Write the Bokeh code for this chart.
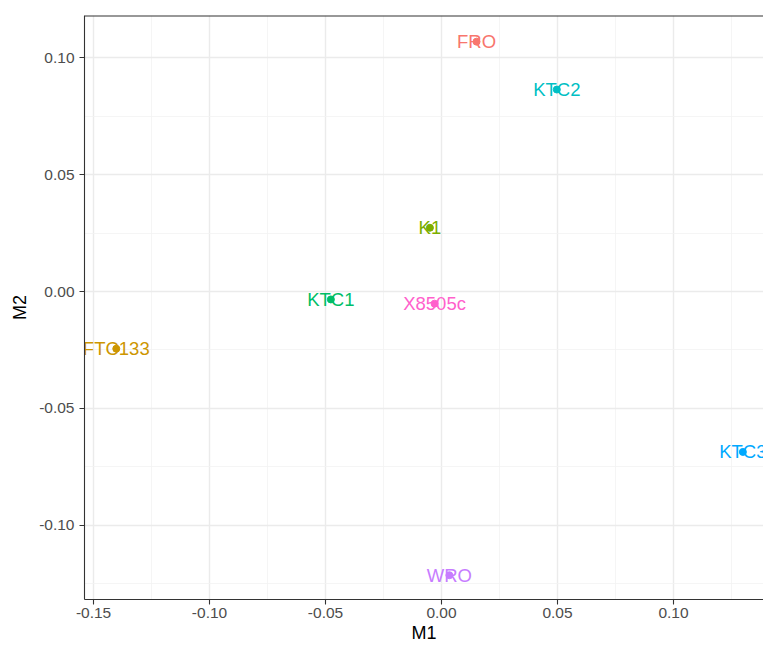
from bokeh.plotting import figure
from bokeh.models import ColumnDataSource, Range1d, FixedTicker, NumeralTickFormatter, Span
from bokeh.core.properties import value
from bokeh.embed import file_html
from bokeh.resources import INLINE

# ---- data ----
labels = ["FRO", "FTC133", "K1", "KTC1", "KTC2", "KTC3", "WRO", "X8505c"]
m1 = [0.0151, -0.1402, -0.0050, -0.0477, 0.0497, 0.1299, 0.0034, -0.0030]
m2 = [0.1070, -0.0245, 0.0273, -0.0034, 0.0865, -0.0687, -0.1215, -0.0052]
colors = ["#F8766D", "#CD9600", "#7CAE00", "#00BE67", "#00BFC4", "#00A9FF", "#C77CFF", "#FF61CC"]

x_ticks = [-0.15, -0.10, -0.05, 0.0, 0.05, 0.10]
x_minor = [-0.125, -0.075, -0.025, 0.025, 0.075, 0.125]
y_ticks = [-0.10, -0.05, 0.0, 0.05, 0.10]
y_minor = [-0.125, -0.075, -0.025, 0.025, 0.075]

src = ColumnDataSource(dict(m1=m1, m2=m2, label=labels, color=colors))

p = figure(width=763, height=645, output_backend="svg", toolbar_location=None,
           x_range=Range1d(-0.1539, 0.1388), y_range=Range1d(-0.1319, 0.1182),
           min_border_left=84, min_border_right=0, min_border_top=15, min_border_bottom=46,
           x_axis_label="M1", y_axis_label="M2")
p.outline_line_color = None
p.background_fill_color = "white"
p.border_fill_color = "white"

p.xaxis.ticker = FixedTicker(ticks=x_ticks, minor_ticks=x_minor)
p.yaxis.ticker = FixedTicker(ticks=y_ticks, minor_ticks=y_minor)
p.xaxis.formatter = NumeralTickFormatter(format="0.00")
p.yaxis.formatter = NumeralTickFormatter(format="0.00")

for ax in (p.xaxis, p.yaxis):
    ax.axis_line_color = "#333333"
    ax.axis_line_width = 1.1
    ax.major_tick_line_color = "#333333"
    ax.major_tick_line_width = 1.1
    ax.major_tick_out = 5
    ax.major_tick_in = 0
    ax.minor_tick_line_color = None
    ax.major_label_text_font = "Liberation Sans"
    ax.major_label_text_font_size = "15.5px"
    ax.major_label_text_color = "#4D4D4D"
    ax.axis_label_text_font = "Liberation Sans"
    ax.axis_label_text_font_size = "18px"
    ax.axis_label_text_font_style = "normal"
    ax.axis_label_text_color = "black"

p.xaxis.major_label_standoff = 3
p.xaxis.axis_label_standoff = 2
p.yaxis.major_label_standoff = 5
p.yaxis.axis_label_standoff = 6

for g in (p.xgrid, p.ygrid):
    g.grid_line_color = "#EBEBEB"
    g.grid_line_width = 1.4
    g.minor_grid_line_color = "#F2F2F2"
    g.minor_grid_line_width = 0.8

p.add_layout(Span(location=0.1182, dimension="width", line_color="#333333", line_width=2))

p.scatter(x="m1", y="m2", color="color", size=7, source=src)
p.text(x="m1", y="m2", text="label", text_color="color", source=src,
       text_font=value("Liberation Sans"), text_font_size=value("18.5px"),
       text_align="center", text_baseline="middle")

open("out.html", "w").write(file_html(p, INLINE))
